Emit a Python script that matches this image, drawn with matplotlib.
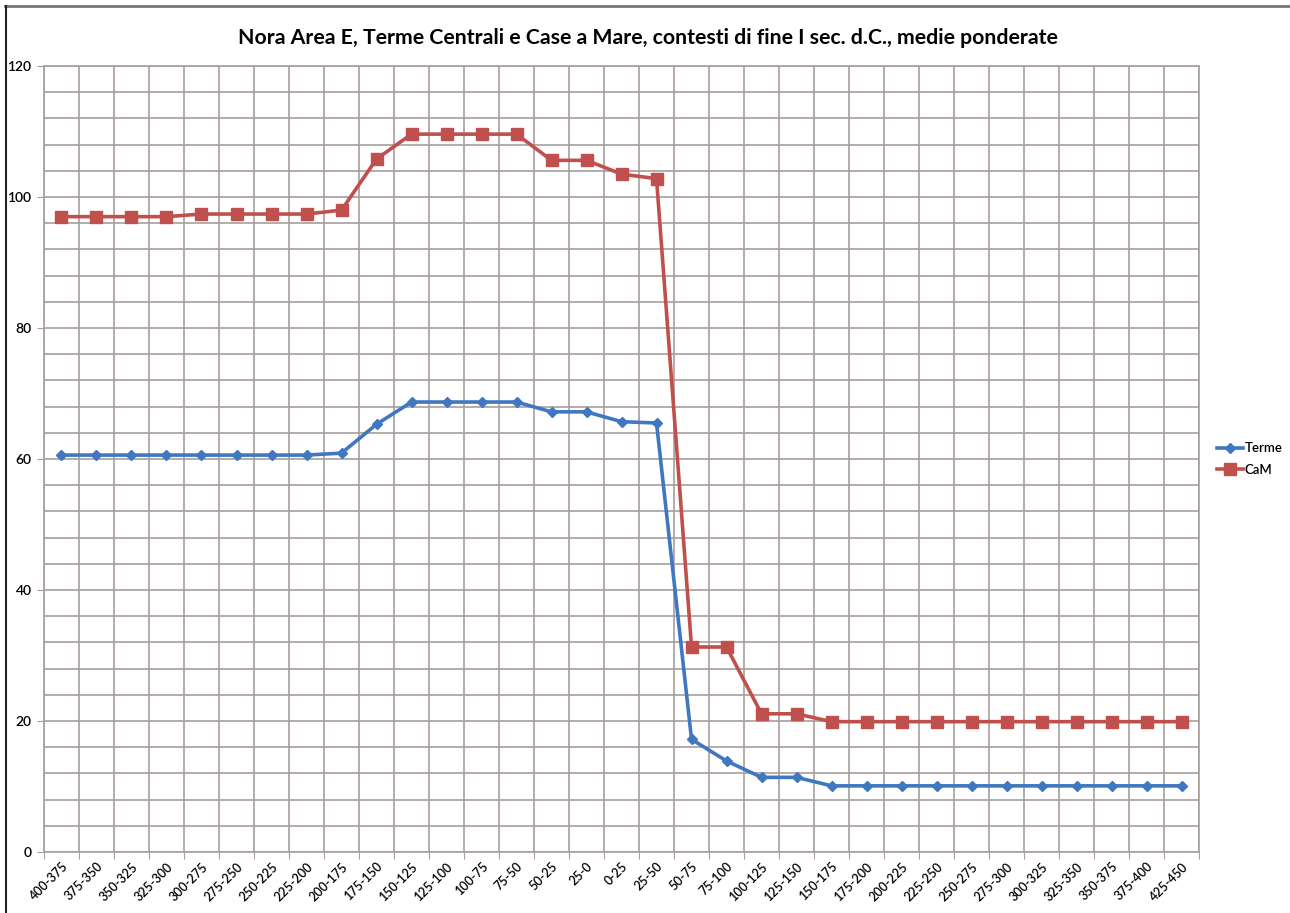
"""Nora Area E: weighted averages, Terme vs CaM."""

import matplotlib

matplotlib.use("Agg")
import matplotlib.pyplot as plt
from matplotlib.lines import Line2D
from matplotlib.ticker import MultipleLocator
import numpy as np

periods = [
    "400-375", "375-350", "350-325", "325-300", "300-275", "275-250", "250-225",
    "225-200", "200-175", "175-150", "150-125", "125-100", "100-75", "75-50",
    "50-25", "25-0", "0-25", "25-50", "50-75", "75-100", "100-125", "125-150",
    "150-175", "175-200", "200-225", "225-250", "250-275", "275-300", "300-325",
    "325-350", "350-375", "375-400", "425-450",
]
terme = [
    60.6, 60.6, 60.6, 60.6, 60.6, 60.6, 60.6, 60.6, 60.9, 65.3, 68.7, 68.7,
    68.7, 68.7, 67.2, 67.2, 65.7, 65.5, 17.2, 13.9, 11.4, 11.4, 10.1, 10.1,
    10.1, 10.1, 10.1, 10.1, 10.1, 10.1, 10.1, 10.1, 10.1,
]
cam = [
    97.0, 97.0, 97.0, 97.0, 97.4, 97.4, 97.4, 97.4, 98.0, 105.8, 109.6, 109.6,
    109.6, 109.6, 105.6, 105.6, 103.5, 102.8, 31.3, 31.3, 21.1, 21.1, 19.9, 19.9,
    19.9, 19.9, 19.9, 19.9, 19.9, 19.9, 19.9, 19.9, 19.9,
]

plt.rcParams["font.family"] = ["Lato", "DejaVu Sans"]
grid_color = "#a89e9c"

fig = plt.figure(figsize=(12.9, 9.13), dpi=100)
ax = fig.add_axes([0.0341, 0.0668, 0.8954, 0.8609])

x = np.arange(len(periods))
ax.plot(x, terme, color="#3f78c0", lw=2.6, marker="D", ms=5.5, label="Terme", zorder=3)
ax.plot(x, cam, color="#c0504d", lw=2.6, marker="s", ms=8, label="CaM", zorder=3)

ax.set_xlim(-0.5, len(periods) - 0.5)
ax.set_ylim(0, 120)

# gridlines on category boundaries, labels on category centres
ax.set_xticks(np.arange(len(periods) + 1) - 0.5)
ax.set_xticklabels([])
ax.set_xticks(x, minor=True)
ax.set_xticklabels(periods, minor=True, rotation=45, ha="right", rotation_mode="anchor",
                   fontsize=9, fontweight="semibold")
ax.tick_params(axis="x", which="major", length=5, color=grid_color)
ax.tick_params(axis="x", which="minor", length=0, pad=6)

ax.yaxis.set_major_locator(MultipleLocator(20))
ax.yaxis.set_minor_locator(MultipleLocator(4))
ax.tick_params(axis="y", which="major", length=5, color=grid_color, labelsize=10, pad=4)
ax.tick_params(axis="y", which="minor", length=0)
for lbl in ax.get_yticklabels():
    lbl.set_fontweight("semibold")

ax.grid(True, axis="x", which="major", color=grid_color, lw=1.2)
ax.grid(True, axis="y", which="both", color=grid_color, lw=1.2)
for spine in ax.spines.values():
    spine.set_color(grid_color)
    spine.set_linewidth(1.2)

fig.text(0.502, 0.958, "Nora Area E, Terme Centrali e Case a Mare, contesti di fine I sec. d.C., medie ponderate",
         ha="center", va="center", fontsize=15.3, fontweight="bold")

leg = ax.legend(loc="center left", bbox_to_anchor=(1.005, 0.5), frameon=False, fontsize=9.5,
                handlelength=2.0, handletextpad=0.1, labelspacing=0.7)
for txt in leg.get_texts():
    txt.set_fontweight("semibold")

# page frame seen at top and left of the scan
fig.add_artist(Line2D([0.004, 1.0], [0.993, 0.993], transform=fig.transFigure, color="#777777", lw=2))
fig.add_artist(Line2D([0.005, 0.005], [0.0, 0.993], transform=fig.transFigure, color="#222222", lw=1.5))

fig.savefig("out.png", dpi=100)
